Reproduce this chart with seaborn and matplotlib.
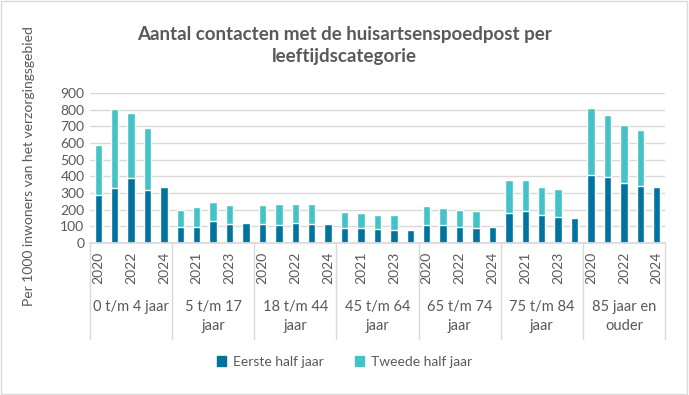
import numpy as np
import pandas as pd
import matplotlib.pyplot as plt
import seaborn as sns
from matplotlib.patches import Patch, Rectangle
from matplotlib.transforms import blended_transform_factory

sns.set_theme(style="white")
plt.rcParams["font.family"] = ["Lato", "DejaVu Sans"]

groepen = ["0 t/m 4 jaar", "5 t/m 17\njaar", "18 t/m 44\njaar", "45 t/m 64\njaar",
           "65 t/m 74\njaar", "75 t/m 84\njaar", "85 jaar en\nouder"]
jaren = ["2020", "2021", "2022", "2023", "2024"]

# per groep: 2020..2024
eerste_half = [
    [287, 331, 392, 317, 335],
    [96, 96, 131, 113, 119],
    [113, 107, 120, 113, 113],
    [89, 89, 83, 77, 77],
    [107, 107, 95, 89, 95],
    [179, 191, 167, 155, 149],
    [408, 396, 360, 342, 336],
]
tweede_half = [
    [301, 474, 389, 374, 0],
    [101, 119, 114, 114, 0],
    [115, 126, 113, 120, 0],
    [96, 90, 84, 90, 0],
    [114, 102, 102, 102, 0],
    [199, 187, 169, 169, 0],
    [403, 373, 349, 337, 0],
]

kleur_eerste = "#0073A1"
kleur_tweede = "#43C3C7"
tekstkleur = "#595959"

rijen = []
for g, groep in enumerate(groepen):
    for j, jaar in enumerate(jaren):
        rijen.append({
            "sleutel": f"{g}-{jaar}",
            "jaar": jaar,
            "eerste": eerste_half[g][j],
            "totaal": eerste_half[g][j] + tweede_half[g][j],
        })
df = pd.DataFrame(rijen)

fig = plt.figure(figsize=(6.89, 3.95), dpi=100)
ax = fig.add_axes([0.1306, 0.3848, 0.8345, 0.3798])

sns.barplot(data=df, x="sleutel", y="totaal", color=kleur_tweede, width=0.45,
            saturation=1, ax=ax)
sns.barplot(data=df, x="sleutel", y="eerste", color=kleur_eerste, width=0.45,
            saturation=1, ax=ax)

ax.set_xlim(-0.5, len(df) - 0.5)
ax.set_ylim(0, 900)
ax.set_yticks(range(0, 901, 100))
ax.yaxis.grid(True, color="#D9D9D9", linewidth=1)
ax.set_axisbelow(True)
for kant in ["top", "right", "left"]:
    ax.spines[kant].set_visible(False)
ax.spines["bottom"].set_color("#D9D9D9")
ax.tick_params(axis="y", labelsize=10, labelcolor=tekstkleur, length=0, pad=4)

# jaarlabels: om de twee
posities = np.arange(len(df))
ax.set_xticks(posities[::2])
ax.set_xticklabels(df["jaar"].iloc[::2], rotation=90, fontsize=10, color=tekstkleur)
ax.tick_params(axis="x", length=0, pad=6)
ax.set_xlabel("")
ax.set_ylabel("")

# groepslabels en scheidingslijnen
trans = blended_transform_factory(ax.transData, ax.transAxes)
for g, groep in enumerate(groepen):
    midden = g * 5 + 2
    ax.text(midden, -0.38, groep, transform=trans, ha="center", va="top",
            fontsize=10.5, color=tekstkleur, linespacing=1.45)
for g in range(len(groepen) + 1):
    x = g * 5 - 0.5
    ax.plot([x, x], [0, -0.64], transform=trans, color="#D9D9D9", lw=1, clip_on=False)

fig.text(0.5, 0.885, "Aantal contacten met de huisartsenspoedpost per\nleeftijdscategorie",
         ha="center", va="center", fontsize=13.5, fontweight="bold", color=tekstkleur,
         linespacing=1.35)
fig.text(0.042, 0.58, "Per 1000 inwoners van het verzorgingsgebied", rotation=90,
         ha="center", va="center", fontsize=10, color=tekstkleur)

handles = [Patch(color=kleur_eerste, label="Eerste half jaar"),
           Patch(color=kleur_tweede, label="Tweede half jaar")]
fig.legend(handles=handles, loc="center", bbox_to_anchor=(0.5, 0.083), ncol=2,
           frameon=False, fontsize=10, handlelength=0.7, handleheight=0.7,
           columnspacing=2.2, handletextpad=0.5, labelcolor=tekstkleur)

fig.patches.append(Rectangle((0.002, 0.003), 0.995, 0.994, transform=fig.transFigure,
                             fill=False, edgecolor="#D9D9D9", lw=1))

fig.savefig("out.png", dpi=100, facecolor="white")
